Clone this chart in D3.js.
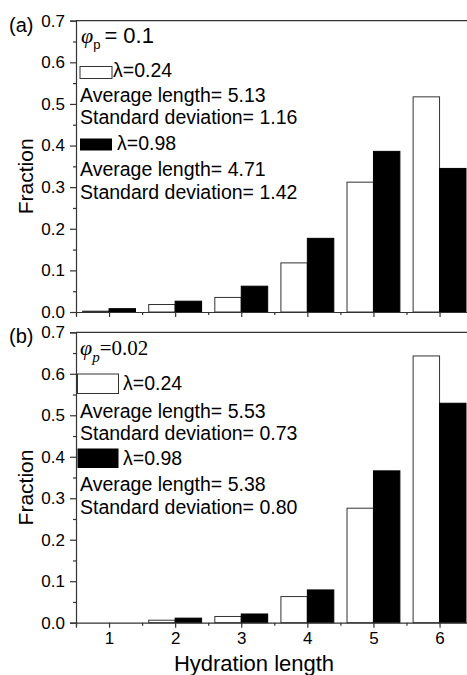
<!DOCTYPE html>
<html>
<head>
<meta charset="utf-8">
<script src="https://cdn.jsdelivr.net/npm/d3@7.9.0/dist/d3.min.js"></script>
<style>
  body { margin: 0; background: #fff; }
  svg { display: block; font-family: "Liberation Sans", Arial, sans-serif; }
</style>
</head>
<body>
<svg id="chart"></svg>
<script>
// hydration length categories and fractions
const lengths = [1, 2, 3, 4, 5, 6];
const yTicks = [0.0, 0.1, 0.2, 0.3, 0.4, 0.5, 0.6, 0.7];

// panel (a), phi_p = 0.1
const aLow = [0.002, 0.018, 0.035, 0.118, 0.312, 0.517];   // lambda = 0.24
const aHigh = [0.008, 0.026, 0.062, 0.177, 0.386, 0.345];  // lambda = 0.98
// panel (b), phi_p = 0.02
const bLow = [0.0, 0.006, 0.015, 0.063, 0.276, 0.643];
const bHigh = [0.0, 0.011, 0.021, 0.079, 0.366, 0.529];

const lambdas = ['λ=0.24', 'λ=0.98'];
const aStats = ['Average length= 5.13', 'Standard deviation= 1.16',
                'Average length= 4.71', 'Standard deviation= 1.42'];
const bStats = ['Average length= 5.53', 'Standard deviation= 0.73',
                'Average length= 5.38', 'Standard deviation= 0.80'];

const width = 467;
const height = 675;
const left = 76;

const svg = d3.select('#chart')
    .attr('width', width)
    .attr('height', height);

// x runs from 0.5 to 6.5, right frame is cut off by the crop
const x = d3.scaleLinear()
    .domain([0.5, 6.5])
    .range([left, left + 6 * 66.1]);

const barW = 0.4;

function drawPanel(opts) {
    const y = d3.scaleLinear()
        .domain([0, 0.7])
        .range([opts.bottom, opts.top]);

    const g = svg.append('g');

    // bars
    g.selectAll('rect.low')
        .data(opts.low)
        .join('rect')
        .attr('class', 'low')
        .attr('x', (d, i) => x(lengths[i] - barW))
        .attr('y', d => y(d))
        .attr('width', x(barW) - x(0))
        .attr('height', d => y(0) - y(d))
        .attr('fill', '#fff')
        .attr('stroke', '#333')
        .attr('stroke-width', 1);

    g.selectAll('rect.high')
        .data(opts.high)
        .join('rect')
        .attr('class', 'high')
        .attr('x', (d, i) => x(lengths[i]))
        .attr('y', d => y(d))
        .attr('width', x(barW) - x(0))
        .attr('height', d => y(0) - y(d))
        .attr('fill', '#000')
        .attr('stroke', '#000')
        .attr('stroke-width', 1);

    // top frame line
    g.append('line')
        .attr('x1', left).attr('x2', width)
        .attr('y1', y(0.7)).attr('y2', y(0.7))
        .attr('stroke', '#333').attr('stroke-width', 1.2);

    // minor y ticks
    const minorY = d3.range(0.05, 0.7, 0.1);
    g.append('g')
        .attr('transform', `translate(${left},0)`)
        .call(d3.axisLeft(y).tickValues(minorY).tickSize(3).tickFormat(''))
        .call(a => a.select('.domain').remove());

    // y axis
    g.append('g')
        .attr('transform', `translate(${left},0)`)
        .call(d3.axisLeft(y).tickValues(yTicks).tickSize(6).tickPadding(5)
            .tickFormat(d3.format('.1f')))
        .call(a => a.selectAll('text').style('font-size', '17px').attr('fill', '#000'));

    // minor x ticks
    g.append('g')
        .attr('transform', `translate(0,${y(0)})`)
        .call(d3.axisBottom(x).tickValues(d3.range(0.5, 7, 1)).tickSize(3).tickFormat(''))
        .call(a => a.select('.domain').remove());

    // x axis
    g.append('g')
        .attr('transform', `translate(0,${y(0)})`)
        .call(d3.axisBottom(x).tickValues(lengths).tickSize(5).tickPadding(4)
            .tickFormat(opts.showX ? d3.format('d') : ''))
        .call(a => a.selectAll('text').style('font-size', '17px').attr('fill', '#000'));

    g.selectAll('.domain, .tick line').attr('stroke', '#333').attr('stroke-width', 1.2);

    // panel letter
    g.append('text')
        .attr('x', 9).attr('y', opts.top + 11)
        .style('font-size', '20px')
        .text(opts.letter);

    // y label
    g.append('text')
        .attr('transform', `translate(33,${(opts.top + opts.bottom) / 2 + 10}) rotate(-90)`)
        .attr('text-anchor', 'middle')
        .style('font-size', '21px')
        .text('Fraction');

    // legend swatches
    const lg = opts.legend;
    g.append('rect')
        .attr('x', lg.boxX).attr('y', lg.box1Y)
        .attr('width', lg.boxW).attr('height', lg.boxH)
        .attr('fill', '#fff').attr('stroke', '#333').attr('stroke-width', 1);
    g.append('rect')
        .attr('x', lg.boxX).attr('y', lg.box2Y)
        .attr('width', lg.boxW).attr('height', lg.boxH)
        .attr('fill', '#000');

    g.selectAll('text.lam')
        .data(lambdas)
        .join('text')
        .attr('class', 'lam')
        .attr('x', (d, i) => lg.lamX[i])
        .attr('y', (d, i) => lg.lamY[i])
        .style('font-size', '19.5px')
        .text(d => d);

    g.selectAll('text.stat')
        .data(opts.stats)
        .join('text')
        .attr('class', 'stat')
        .attr('x', 80)
        .attr('y', (d, i) => lg.statY[i])
        .style('font-size', '19.5px')
        .text(d => d);

    return g;
}

const ga = drawPanel({
    top: 20.7, bottom: 312, low: aLow, high: aHigh, stats: aStats,
    letter: '(a)', showX: false,
    legend: { boxX: 80, boxW: 32, boxH: 12, box1Y: 66.5, box2Y: 138.5,
              lamX: [113, 117], lamY: [77, 150], statY: [102, 124, 176, 198.5] }
});

// phi_p label, panel (a): sans serif
const phiA = ga.append('text').attr('x', 81).attr('y', 42.5);
phiA.append('tspan').style('font-family', '"Liberation Serif", serif')
    .style('font-style', 'italic').style('font-size', '22px').text('φ');
phiA.append('tspan').attr('dy', 6).style('font-size', '13px').text('p');
phiA.append('tspan').attr('dy', -6).attr('dx', 4).style('font-size', '22px').text('= 0.1');

const gb = drawPanel({
    top: 332.3, bottom: 622.7, low: bLow, high: bHigh, stats: bStats,
    letter: '(b)', showX: true,
    legend: { boxX: 77.5, boxW: 41, boxH: 19.5, box1Y: 374, box2Y: 448.5,
              lamX: [123, 123], lamY: [390, 465], statY: [418, 440, 491, 513.5] }
});

// phi_p label, panel (b): serif
const phiB = gb.append('text').attr('x', 80).attr('y', 355)
    .style('font-family', '"Liberation Serif", serif');
phiB.append('tspan').style('font-style', 'italic').style('font-size', '22px').text('φ');
phiB.append('tspan').attr('dy', 7).style('font-style', 'italic').style('font-size', '15px').text('p');
phiB.append('tspan').attr('dy', -7).style('font-size', '21px').text('=0.02');

// x label
svg.append('text')
    .attr('x', 254).attr('y', 671)
    .attr('text-anchor', 'middle')
    .style('font-size', '22px')
    .text('Hydration length');
</script>
</body>
</html>
